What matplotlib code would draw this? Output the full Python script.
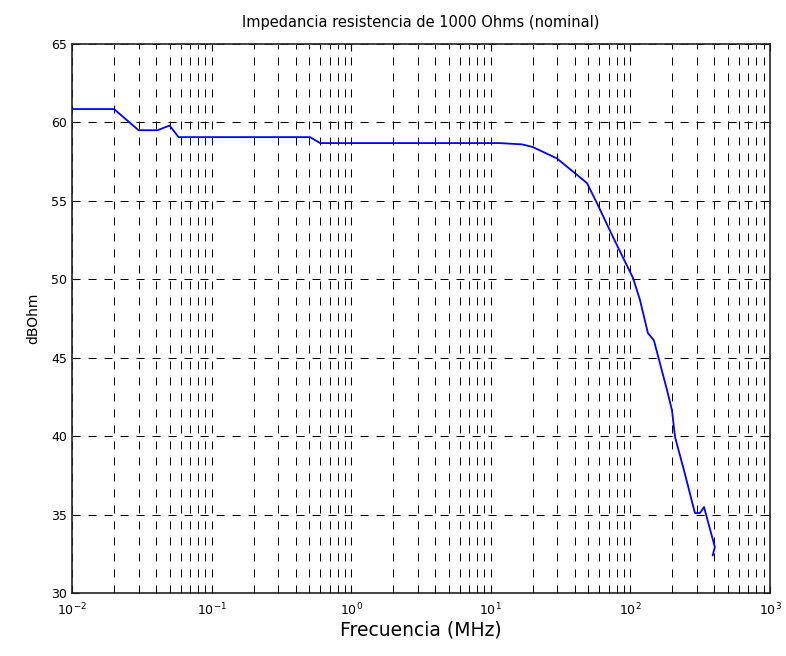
import numpy as np
import matplotlib
matplotlib.use('Agg')
from matplotlib import pyplot as plt
from matplotlib.ticker import LogLocator, NullFormatter, MultipleLocator

# values (MHz, dBOhm)
freq = [0.01, 0.02, 0.03, 0.041, 0.05, 0.058, 0.507, 0.6, 11.6, 16.7, 20.0,
        29.8, 40.0, 48.9, 57.6, 75.0, 104.5, 117.0, 133.6, 147.5, 183.0,
        198.6, 209.0, 245.0, 290.0, 315.0, 337.0, 403.0, 389.0]
z_db = [60.85, 60.85, 59.5, 59.5, 59.8, 59.06, 59.06, 58.68, 58.68, 58.6, 58.43,
        57.7, 56.77, 56.13, 54.86, 52.7, 50.08, 48.7, 46.57, 46.1, 42.94,
        41.66, 39.94, 37.65, 35.1, 35.1, 35.48, 32.93, 32.4]

title = 'Impedancia resistencia de 1000 Ohms (nominal)'
xlabel = 'Frecuencia (MHz)'
ylabel = 'dBOhm'


def setup_axes(ax):
    ax.set_xscale('log')
    ax.set_xlim(1e-2, 1e3)
    ax.set_ylim(30, 65)
    ax.yaxis.set_major_locator(MultipleLocator(5))
    ax.xaxis.set_major_locator(LogLocator(base=10, numticks=10))
    ax.xaxis.set_minor_locator(LogLocator(base=10, subs=np.arange(2, 10), numticks=20))
    ax.xaxis.set_minor_formatter(NullFormatter())
    ax.tick_params(which='both', direction='in', top=True, right=True,
                   labelsize=9, colors='black')
    ax.tick_params(which='major', length=5)
    ax.tick_params(which='minor', length=3)
    ax.tick_params(axis='x', pad=6)
    # MATLAB-ish dashes: ~8 px on, 8 px off
    dash = (0, (8, 8))
    ax.grid(True, which='major', axis='both', color='black',
            linestyle=dash, linewidth=0.72)
    ax.grid(True, which='minor', axis='x', color='black',
            linestyle=dash, linewidth=0.72)
    for sp in ax.spines.values():
        sp.set_linewidth(1.2)
        sp.set_color('#222222')


def main():
    fig = plt.figure(figsize=(7.86, 6.56), dpi=100)
    ax = fig.add_axes([0.0916, 0.096, 0.888, 0.837])
    setup_axes(ax)
    ax.plot(freq, z_db, color='#0000ff', linewidth=1.3)
    ax.set_title(title, fontsize=10.5, pad=12)
    ax.set_xlabel(xlabel, fontsize=13.5, labelpad=2)
    ax.set_ylabel(ylabel, fontsize=10, labelpad=8)
    fig.savefig('out.png', dpi=100)


if __name__ == '__main__':
    main()
